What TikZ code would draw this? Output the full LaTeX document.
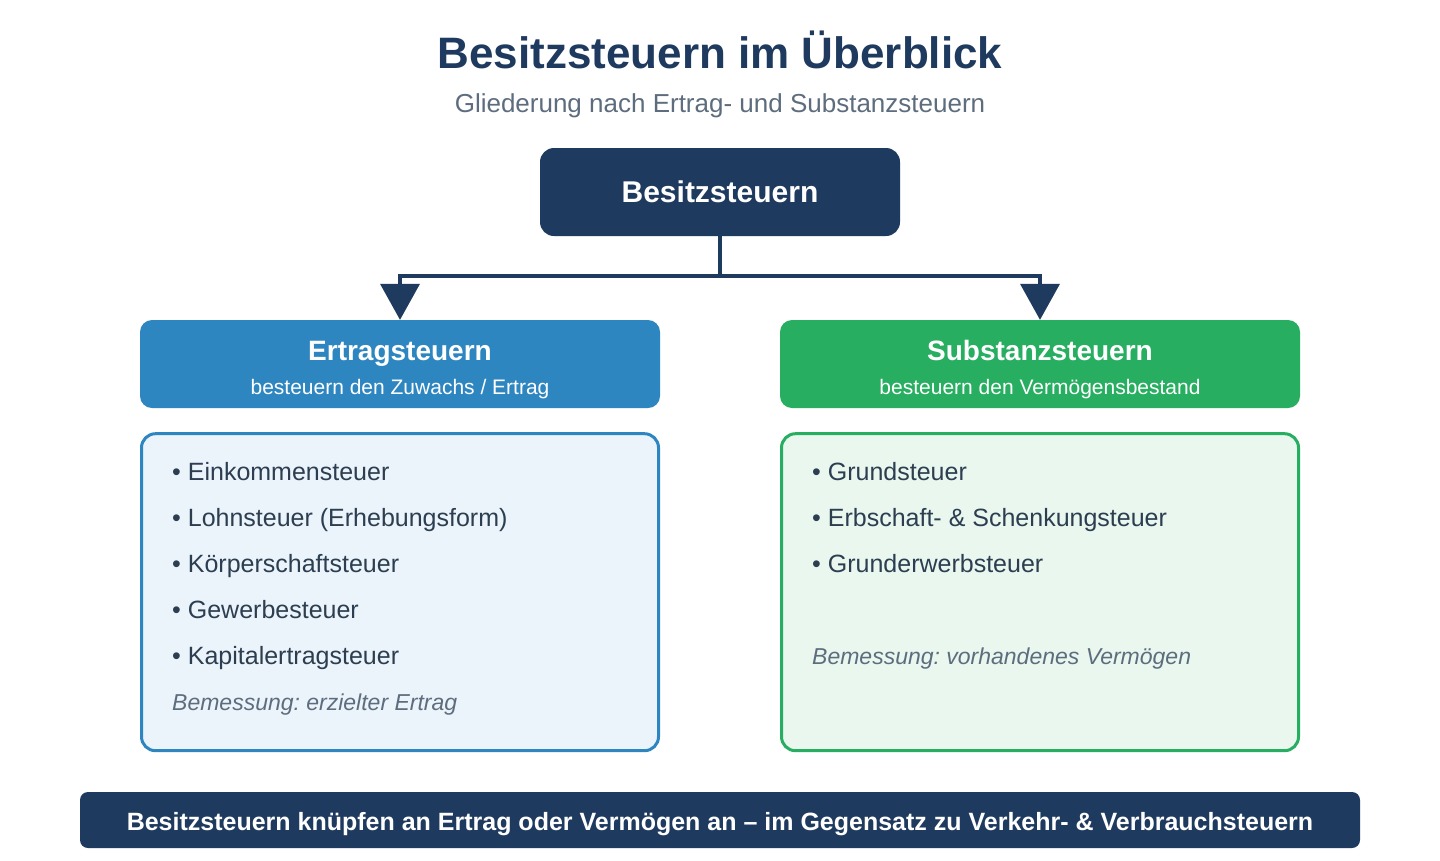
\documentclass[tikz,border=0pt]{standalone}
\usepackage{fontspec}
\setmainfont{Liberation Sans}
\usetikzlibrary{arrows.meta,positioning}
\definecolor{navy}{HTML}{1F3A5F}
\definecolor{ertragblue}{HTML}{2E86C1}
\definecolor{substanzgreen}{HTML}{27AE60}
\definecolor{ertragpale}{HTML}{EBF3FB}
\definecolor{substanzpale}{HTML}{E9F7EF}
\definecolor{ink}{HTML}{2C3E50}
\definecolor{muted}{HTML}{5D6D7E}
\newcommand{\pxsize}[1]{\fontsize{#1}{#1}\selectfont}
\frenchspacing

\begin{document}
\begin{tikzpicture}[x=1pt,y=-1pt,
 >={Triangle[length=36pt,width=40pt,line width=0pt]},
 hdr/.style={rounded corners=12pt,minimum width=520pt,minimum height=88pt,inner sep=0pt},
 hdrtitle/.style={anchor=base,text=white,font=\bfseries\pxsize{28}},
 hdrsub/.style={anchor=base,text=white,font=\pxsize{21}},
 panel/.style={rounded corners=14pt,line width=3pt,minimum width=517pt,minimum height=317pt},
 item/.style={anchor=base west,text=ink,inner sep=0pt,font=\pxsize{25}},
 note/.style={anchor=base west,text=muted,inner sep=0pt,font=\itshape\pxsize{23}},
 conn/.style={draw=navy,line width=4pt}]
\useasboundingbox (0,0) rectangle (1440,860);
\fill[white] (0,0) rectangle (1440,860);

\node[anchor=base,text=navy,font=\bfseries\pxsize{44}] (title) at (720,68) {Besitzsteuern im Überblick};
\node[anchor=base,text=muted,font=\pxsize{26}] (subtitle) at (720,112) {Gliederung nach Ertrag- und Substanzsteuern};

\node[fill=navy,rounded corners=14pt,minimum width=360pt,minimum height=88pt,
 text=white,font=\bfseries\pxsize{30}] (top) at (720,192) {Besitzsteuern};

\node[hdr,fill=ertragblue] (ertrag) at (400,364) {};
\node[hdrtitle] (ertragT) at (400,360) {Ertragsteuern};
\node[hdrsub] (ertragS) at (400,394) {besteuern den Zuwachs / Ertrag};
\node[hdr,fill=substanzgreen] (substanz) at (1040,364) {};
\node[hdrtitle] (substanzT) at (1040,360) {Substanzsteuern};
\node[hdrsub] (substanzS) at (1040,394) {besteuern den Vermögensbestand};

\draw[conn] (top.south) -- ++(0,40) coordinate (fork);
\draw[conn,->] (fork) -| (ertrag.north);
\draw[conn,->] (fork) -| (substanz.north);

\node[panel,draw=ertragblue,fill=ertragpale,below=24pt of ertrag] (ertragP) {};
\node[panel,draw=substanzgreen,fill=substanzpale,below=24pt of substanz] (substanzP) {};

\foreach \t [count=\i] in {Einkommensteuer,Lohnsteuer (Erhebungsform),Körperschaftsteuer,Gewerbesteuer,Kapitalertragsteuer}
 \node[item] (e\i) at (172,434+46*\i) {• \t};
\node[note] (ertragN) at (172,710) {Bemessung: erzielter Ertrag};

\foreach \t [count=\i] in {Grundsteuer,Erbschaft- \& Schenkungsteuer,Grunderwerbsteuer}
 \node[item] (s\i) at (812,434+46*\i) {• \t};
\node[note] (substanzN) at (812,664) {Bemessung: vorhandenes Vermögen};

\node[fill=navy,rounded corners=8pt,minimum width=1280pt,minimum height=56pt] (footer) at (720,820) {};
\node[anchor=base,text=white,font=\bfseries\pxsize{25}] (footerT) at (720,830)
 {Besitzsteuern knüpfen an Ertrag oder Vermögen an – im Gegensatz zu Verkehr- \& Verbrauchsteuern};
\end{tikzpicture}
\end{document}
